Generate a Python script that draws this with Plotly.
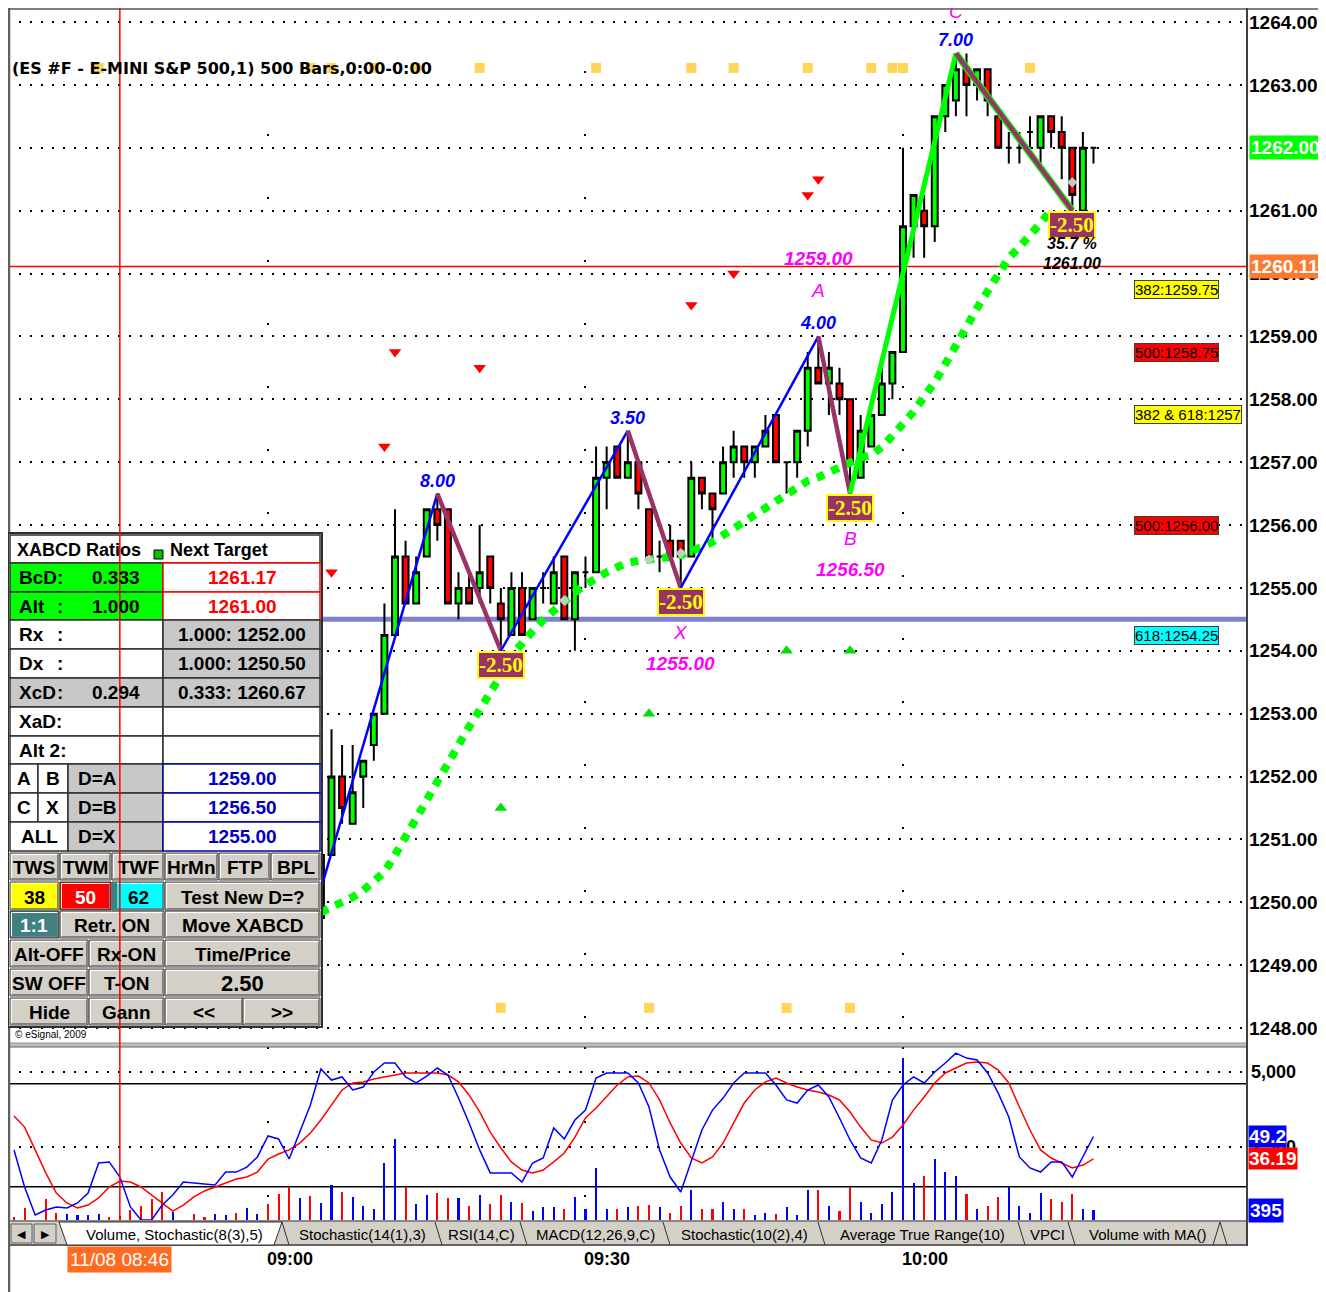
import plotly.graph_objects as go

W, H = 1326, 1292
OX, OY = 8, 8                     # page body margin offset
FW, FH = W - OX, H - OY           # figure size
SANS = "Arial, Liberation Sans, sans-serif"
SERIF = "Times New Roman, Liberation Serif, serif"

# ------------------------------------------------------------------ data
# ES #F 1-minute bars on 11/08, x = minutes after 09:00
bar_minute = [5, 6, 7, 8, 9, 10, 11, 12, 13, 14, 15, 16, 17, 18, 19, 20, 21, 22, 23, 24,
              25, 26, 27, 28, 29, 30, 31, 32, 33, 34, 35, 36, 37, 38, 39, 40, 41, 42, 43, 44,
              45, 46, 47, 48, 49, 50, 51, 52, 53, 54, 55, 56, 57, 58, 59, 60, 61, 62, 63, 64,
              65, 66, 67, 68, 69, 70, 71, 72, 73, 74, 75, 76, 77, 78]
bar_open = [1249.75, 1250.75, 1252.0, 1251.25, 1252.0, 1252.5, 1253.0, 1254.25, 1255.5, 1254.75,
            1255.5, 1256.25, 1256.25, 1254.75, 1255.0, 1255.0, 1255.5, 1254.75, 1254.25, 1255.0,
            1254.5, 1255.0, 1254.75, 1255.5, 1254.5, 1255.25, 1255.25, 1256.75, 1257.25, 1256.75,
            1257.0, 1256.25, 1255.5, 1255.75, 1255.75, 1255.5, 1256.75, 1256.5, 1256.5, 1257.0,
            1257.25, 1257.0, 1257.25, 1257.75, 1257.0, 1257.0, 1257.5, 1258.5, 1258.25, 1258.25,
            1258.0, 1256.75, 1257.25, 1257.75, 1258.25, 1258.75, 1260.75, 1261.0, 1260.75, 1262.5,
            1262.75, 1263.25, 1263.0, 1263.25, 1262.5, 1262.0, 1262.0, 1262.25, 1262.0, 1262.5,
            1262.25, 1262.0, 1261.0, 1262.0]
bar_high = [1250.75, 1252.75, 1252.5, 1252.5, 1252.25, 1253.0, 1254.75, 1256.25, 1255.75, 1255.5,
            1256.25, 1256.5, 1256.25, 1255.25, 1255.25, 1256.0, 1255.5, 1255.0, 1255.25, 1255.25,
            1255.0, 1255.25, 1255.5, 1255.5, 1255.25, 1255.5, 1257.25, 1257.25, 1257.25, 1257.5,
            1257.0, 1256.25, 1255.75, 1256.0, 1255.75, 1257.0, 1256.75, 1256.5, 1257.25, 1257.5,
            1257.25, 1257.25, 1257.75, 1257.75, 1257.0, 1257.5, 1258.75, 1259.0, 1258.75, 1258.5,
            1258.0, 1257.75, 1257.75, 1258.5, 1258.75, 1262.0, 1261.25, 1261.25, 1262.5, 1263.0,
            1263.5, 1263.5, 1263.25, 1263.25, 1262.5, 1262.25, 1262.25, 1262.5, 1262.5, 1262.5,
            1262.5, 1262.0, 1262.25, 1262.0]
bar_low = [1249.5, 1250.75, 1251.25, 1251.25, 1251.5, 1252.25, 1253.0, 1254.25, 1254.75, 1254.75,
           1255.5, 1255.75, 1254.75, 1254.5, 1254.75, 1254.75, 1254.75, 1254.0, 1254.25, 1254.25,
           1254.5, 1254.75, 1254.75, 1254.5, 1254.0, 1255.0, 1255.25, 1256.25, 1256.75, 1256.75,
           1256.25, 1255.5, 1255.25, 1255.5, 1255.0, 1255.5, 1256.25, 1255.75, 1256.5, 1256.75,
           1256.75, 1256.75, 1257.25, 1257.0, 1256.5, 1256.75, 1257.25, 1258.25, 1257.75, 1257.75,
           1256.5, 1256.75, 1257.25, 1257.75, 1258.0, 1258.75, 1260.25, 1260.25, 1260.5, 1262.25,
           1262.5, 1262.5, 1262.75, 1262.5, 1262.0, 1261.75, 1261.75, 1262.0, 1261.75, 1262.0,
           1261.5, 1261.0, 1261.0, 1261.75]
bar_close = [1250.75, 1252.0, 1251.5, 1251.75, 1252.25, 1253.0, 1254.25, 1255.5, 1254.75, 1255.25,
             1256.25, 1256.0, 1254.75, 1255.0, 1254.75, 1255.25, 1255.0, 1254.5, 1255.0, 1254.25,
             1255.0, 1255.0, 1255.25, 1254.5, 1255.25, 1255.25, 1256.75, 1257.0, 1256.75, 1257.0,
             1256.5, 1255.5, 1255.5, 1255.5, 1255.5, 1256.75, 1256.5, 1256.25, 1257.0, 1257.25,
             1257.0, 1257.25, 1257.5, 1257.0, 1257.0, 1257.5, 1258.5, 1258.25, 1258.5, 1258.0,
             1257.0, 1257.5, 1257.75, 1258.25, 1258.75, 1260.75, 1261.25, 1260.75, 1262.5, 1263.0,
             1263.25, 1263.0, 1263.25, 1262.75, 1262.0, 1262.0, 1262.0, 1262.25, 1262.5, 1262.25,
             1262.0, 1261.25, 1262.0, 1262.0]

# green dotted trend curve
trend_minute = [5, 6, 7, 8, 9, 10, 11, 12, 13, 14, 15, 16, 17, 18, 19, 20, 21, 22, 23, 24,
                25, 26, 27, 28, 29, 30, 31, 32, 33, 34, 35, 36, 37, 38, 39, 40, 41, 42, 43, 44,
                45, 46, 47, 48, 49, 50, 51, 52, 53, 54, 55, 56, 57, 58, 59, 60, 61, 62, 63, 64,
                65, 66, 67, 68, 69, 70, 71, 72, 73, 74]
trend_value = [1249.84, 1249.91, 1249.99, 1250.08, 1250.19, 1250.32, 1250.48, 1250.75, 1251.05, 1251.31,
               1251.63, 1251.94, 1252.23, 1252.52, 1252.79, 1253.06, 1253.31, 1253.61, 1253.92, 1254.14,
               1254.31, 1254.49, 1254.65, 1254.81, 1254.93, 1255.05, 1255.16, 1255.25, 1255.33, 1255.40,
               1255.43, 1255.44, 1255.46, 1255.49, 1255.52, 1255.57, 1255.65, 1255.73, 1255.84, 1255.95,
               1256.05, 1256.16, 1256.27, 1256.37, 1256.48, 1256.59, 1256.70, 1256.76, 1256.84, 1256.91,
               1257.00, 1257.07, 1257.11, 1257.24, 1257.42, 1257.59, 1257.80, 1258.04, 1258.27, 1258.56,
               1258.88, 1259.15, 1259.45, 1259.72, 1259.98, 1260.25, 1260.42, 1260.60, 1260.80, 1261.01]

# XABCD swing points and legs
swing_minute = [2, 16, 22, 34, 39, 52, 55, 65, 76]
swing_price = [1248.5, 1256.5, 1254.0, 1257.5, 1255.0, 1259.0, 1256.5, 1263.5, 1261.0]
leg_color = ["#0000FF", "#993366", "#0000FF", "#993366", "#0000FF", "#993366", "#00FF00", "#993366"]
leg_label = ["8.00", "-2.50", "3.50", "-2.50", "4.00", "-2.50", "7.00", "-2.50"]
point_name = {39: ("X", "1255.00"), 52: ("A", "1259.00"), 55: ("B", "1256.50"), 65: ("C", "")}

# signal markers
sell_minute = [6, 11, 12, 20, 40, 44, 51, 52]
sell_price = [1255.25, 1257.25, 1258.75, 1258.5, 1259.5, 1260.0, 1261.25, 1261.5]
buy_minute = [22, 36, 49, 55]
buy_price = [1251.5, 1253.0, 1254.0, 1254.0]
top_sq_minute = [-16, 4, 6, 10, 14, 20, 31, 40, 44, 51, 57, 59, 60, 72]
top_sq_price = [1263.27, 1263.27, 1263.27, 1263.27, 1263.27, 1263.27, 1263.27,
                1263.27, 1263.27, 1263.27, 1263.27, 1263.27, 1263.27, 1263.27]
bot_sq_minute = [22, 36, 49, 55]
bot_sq_price = [1248.32, 1248.32, 1248.32, 1248.32]
grey_minute = [28, 36, 39, 76]
grey_price = [1254.8, 1255.45, 1255.55, 1261.45]

# levels
cursor_price = 1260.11
last_price = 1262.00
fib_line_price = 1254.5
fib_levels = [1259.75, 1258.75, 1257.75, 1256.00, 1254.25]
fib_labels = ["382:1259.75", "500:1258.75", "382 & 618:1257", "500:1256.00", "618:1254.25"]
fib_colors = ["#FFFF00", "#FF0000", "#FFFF00", "#FF0000", "#00FFFF"]
last_swing_text = ["35.7 %", "1261.00"]

price_ticks = [1248, 1249, 1250, 1251, 1252, 1253, 1254, 1255, 1256, 1257, 1258, 1259,
               1260, 1261, 1262, 1263, 1264]
price_tick_text = ["1248.00", "1249.00", "1250.00", "1251.00", "1252.00", "1253.00", "1254.00",
                   "1255.00", "1256.00", "1257.00", "1258.00", "1259.00", "1260.00", "1261.00",
                   "1262.00", "1263.00", "1264.00"]
time_ticks = [0, 30, 60]
time_labels = ["09:00", "09:30", "10:00"]
cursor_minute = -14
cursor_label = "11/08 08:46"

# lower pane: Volume + Stochastic(8(3),5)
ind_minute = [-24, -23, -22, -21, -20, -19, -18, -17, -16, -15, -14, -13, -12, -11, -10, -9, -8, -7,
              -6, -5, -4, -3, -2, -1, 0, 1, 2, 3, 4, 5, 6, 7, 8, 9, 10, 11, 12, 13, 14, 15, 16, 17,
              18, 19, 20, 21, 22, 23, 24, 25, 26, 27, 28, 29, 30, 31, 32, 33, 34, 35, 36, 37, 38,
              39, 40, 41, 42, 43, 44, 45, 46, 47, 48, 49, 50, 51, 52, 53, 54, 55, 56, 57, 58, 59,
              60, 61, 62, 63, 64, 65, 66, 67, 68, 69, 70, 71, 72, 73, 74, 75, 76, 77, 78]
stoch_k = [41.4, 19.8, 3.5, 6.4, 8.2, 7.6, 10.5, 16.3, 33.8, 34.4,
           25.6, 8.2, 0.6, 0.6, 9.3, 15.1, 22.7, 22.1, 21.5, 21.0,
           28.5, 28.5, 31.4, 37.3, 49.5, 47.8, 36.1, 51.8, 67.6, 88.5,
           82.1, 83.9, 76.3, 78.0, 86.8, 92.0, 92.0, 83.9, 80.4, 84.4,
           89.1, 85.0, 71.6, 57.1, 41.4, 28.0, 28.0, 28.0, 22.7, 33.8,
           36.7, 54.2, 47.8, 58.8, 64.6, 83.3, 86.2, 86.2, 86.2, 80.4,
           66.4, 41.4, 25.6, 16.9, 35.5, 53.0, 64.6, 71.6, 80.4, 86.2,
           86.2, 86.2, 79.2, 70.5, 68.7, 76.3, 79.2, 72.2, 60.0, 47.2,
           36.7, 33.8, 47.2, 70.5, 79.2, 83.9, 80.4, 86.8, 92.0, 97.8,
           94.9, 93.8, 86.2, 74.5, 60.6, 37.3, 30.9, 28.5, 34.4, 34.4,
           25.6, 37.3, 49.2]
stoch_d = [61.2, 54.7, 41.4, 28.0, 16.3, 10.5, 7.6, 9.3, 13.4, 19.8,
           23.3, 22.7, 19.8, 15.1, 10.5, 5.8, 9.3, 14.0, 17.5, 19.8,
           22.1, 24.5, 25.6, 28.5, 36.1, 39.0, 41.4, 45.4, 51.3, 58.8,
           67.6, 76.3, 80.4, 81.0, 82.7, 83.9, 85.0, 86.2, 86.2, 86.2,
           86.2, 85.0, 81.0, 73.4, 63.5, 51.8, 42.5, 34.4, 29.7, 28.0,
           29.7, 34.4, 39.6, 48.9, 60.0, 65.8, 72.2, 79.2, 83.9, 84.4,
           80.4, 70.5, 57.1, 45.4, 36.7, 33.8, 37.3, 45.4, 57.1, 68.7,
           76.3, 81.0, 83.3, 80.4, 78.0, 76.3, 75.1, 73.4, 70.5, 63.5,
           54.7, 47.2, 45.4, 48.9, 55.9, 64.6, 72.2, 80.4, 86.2, 89.1,
           92.0, 92.6, 92.0, 87.9, 80.4, 66.4, 53.0, 41.4, 36.7, 33.8,
           30.9, 32.6, 36.19]
volume = [167, 467, 0, 767, 300, 267, 233, 233, 267, 167,
          200, 400, 533, 767, 1000, 333, 0, 267, 167, 267,
          233, 300, 467, 267, 600, 933, 1167, 800, 867, 633,
          1233, 1000, 833, 533, 433, 1967, 2767, 1167, 600, 900,
          967, 800, 800, 533, 900, 600, 900, 667, 633, 367,
          500, 500, 433, 833, 433, 1800, 433, 433, 500, 533,
          567, 489, 289, 544, 1067, 422, 422, 678, 422, 422,
          233, 311, 267, 489, 233, 1067, 1067, 533, 378, 1156,
          678, 289, 589, 1011, 5456, 1289, 1533, 2089, 1678, 1533,
          933, 422, 533, 822, 1156, 533, 311, 978, 778, 678,
          933, 422, 395]
volume_dir = ["R", "R", "R", "R", "R", "B", "B", "B", "B", "R",
              "R", "R", "R", "R", "R", "B", "B", "R", "R", "B",
              "B", "R", "B", "B", "R", "R", "R", "B", "R", "B",
              "B", "R", "B", "B", "B", "B", "B", "R", "B", "B",
              "R", "R", "B", "R", "B", "R", "R", "B", "R", "B",
              "B", "B", "R", "B", "B", "B", "B", "R", "B", "R",
              "R", "B", "R", "R", "B", "R", "R", "B", "B", "R",
              "B", "B", "R", "B", "B", "B", "R", "B", "R", "R",
              "B", "B", "B", "B", "B", "B", "R", "B", "B", "B",
              "R", "B", "R", "R", "B", "B", "B", "B", "R", "R",
              "R", "B", "B"]
stoch_levels = [20, 80]
volume_grid = [2500, 5000]
volume_grid_text = ["2,500", "5,000"]

# XABCD control panel contents
ratio_names = ["BcD", "Alt", "Rx", "Dx", "XcD", "XaD:", "Alt 2:"]
ratio_values = ["0.333", "1.000", "", "", "0.294", "", ""]
target_values = ["1261.17", "1261.00", "1.000: 1252.00", "1.000: 1250.50", "0.333: 1260.67", "", ""]
projection_names = ["D=A", "D=B", "D=X"]
projection_values = ["1259.00", "1256.50", "1255.00"]
button_rows = [
    ["TWS", "TWM", "TWF", "HrMn", "FTP", "BPL"],
    ["38", "50", "62", "Test New D=?"],
    ["1:1", "Retr. ON", "Move XABCD"],
    ["Alt-OFF", "Rx-ON", "Time/Price"],
    ["SW OFF", "T-ON", "2.50"],
    ["Hide", "Gann", "<<", ">>"],
]
tab_names = ["Volume, Stochastic(8(3),5)", "Stochastic(14(1),3)", "RSI(14,C)", "MACD(12,26,9,C)",
             "Stochastic(10(2),4)", "Average True Range(10)", "VPCI", "Volume with MA()"]
chart_title = "(ES #F - E-MINI S&P 500,1) 500 Bars,0:00-0:00"

# ------------------------------------------------------------------ geometry (page pixels)
PXM = 10.583           # pixels per minute
X0PX = 268             # page pixel of 09:00
def t_at(px):
    return (px - X0PX) / PXM
def p_at(py):
    return 1264 - (py - 22) / 62.875
def X(px):
    return (px - OX) / FW
def Y(py):
    return 1 - (py - OY) / FH

XDOM = [X(8), X(1246)]
XRANGE = [t_at(8), t_at(1246)]
MAIN_DOM = [Y(1043), 1.0]
MAIN_RANGE = [p_at(1043), p_at(OY)]
LOW_DOM = [Y(1220), Y(1047)]
STOCH_RANGE = [(1221 - 1220) / 1.717, (1221 - 1047) / 1.717]
VOL_RANGE = [(1222 - 1220) / 0.03, (1222 - 1047) / 0.03]

shapes, anns = [], []

def rect(x0, y0, x1, y1, fill="rgba(0,0,0,0)", line=None, lw=1, layer="above"):
    shapes.append(dict(type="rect", xref="paper", yref="paper", x0=X(x0), x1=X(x1),
                       y0=Y(y1), y1=Y(y0), fillcolor=fill, layer=layer,
                       line=dict(color=line if line else "rgba(0,0,0,0)", width=lw if line else 0)))

def seg(x0, y0, x1, y1, color, lw=1, layer="above"):
    shapes.append(dict(type="line", xref="paper", yref="paper", x0=X(x0), x1=X(x1),
                       y0=Y(y0), y1=Y(y1), line=dict(color=color, width=lw), layer=layer))

def txt(x, y, s, size=18, color="black", anchor="center", weight="bold", style="normal",
        family=SANS, **kw):
    anns.append(dict(xref="paper", yref="paper", x=X(x), y=Y(y), text=s, showarrow=False,
                     xanchor=anchor, yanchor="middle",
                     font=dict(family=family, size=size, color=color, weight=weight, style=style), **kw))

fig = go.Figure()

# ------------------------------------------------------------------ main pane traces
fig.add_trace(go.Candlestick(
    x=bar_minute, open=bar_open, high=bar_high, low=bar_low, close=bar_close,
    increasing=dict(fillcolor="#00FF00", line=dict(color="black", width=2)),
    decreasing=dict(fillcolor="#FF0000", line=dict(color="black", width=2)),
    whiskerwidth=0, showlegend=False, hoverinfo="skip", xaxis="x", yaxis="y"))

fig.add_trace(go.Scatter(x=trend_minute, y=trend_value, mode="lines",
                         line=dict(color="#00FF00", width=8, dash="8px,8px"),
                         showlegend=False, hoverinfo="skip"))

for i in range(len(swing_minute) - 1):
    xs = [swing_minute[i], swing_minute[i + 1]]
    ys = [swing_price[i], swing_price[i + 1]]
    c = leg_color[i]
    if i == len(swing_minute) - 2:
        fig.add_trace(go.Scatter(x=xs, y=ys, mode="lines", line=dict(color="#00FF00", width=7),
                                 showlegend=False, hoverinfo="skip"))
    w = 2.5 if c == "#0000FF" else (5 if c == "#00FF00" else 4.5)
    fig.add_trace(go.Scatter(x=xs, y=ys, mode="lines", line=dict(color=c, width=w),
                             showlegend=False, hoverinfo="skip"))

fig.add_trace(go.Scatter(x=grey_minute, y=grey_price, mode="markers",
                         marker=dict(symbol="diamond", size=8, color="#C8C8C8"),
                         showlegend=False, hoverinfo="skip"))
fig.add_trace(go.Scatter(x=sell_minute, y=sell_price, mode="markers",
                         marker=dict(symbol="triangle-down", size=11, color="#FF0000"),
                         showlegend=False, hoverinfo="skip"))
fig.add_trace(go.Scatter(x=buy_minute, y=buy_price, mode="markers",
                         marker=dict(symbol="triangle-up", size=11, color="#00E000"),
                         showlegend=False, hoverinfo="skip"))

# ------------------------------------------------------------------ lower pane traces
fig.add_trace(go.Bar(x=ind_minute, y=volume, width=0.2,
                     marker=dict(color=["#0000FF" if d == "B" else "#FF0000" for d in volume_dir],
                                 line=dict(width=0)),
                     xaxis="x2", yaxis="y2", showlegend=False, hoverinfo="skip"))
fig.add_trace(go.Scatter(x=ind_minute, y=stoch_d, mode="lines", line=dict(color="#FF0000", width=1.5),
                         xaxis="x2", yaxis="y3", showlegend=False, hoverinfo="skip"))
fig.add_trace(go.Scatter(x=ind_minute, y=stoch_k, mode="lines", line=dict(color="#0000FF", width=1.5),
                         xaxis="x2", yaxis="y3", showlegend=False, hoverinfo="skip"))

# ------------------------------------------------------------------ level lines
shapes.append(dict(type="line", xref="paper", yref="y", x0=X(8), x1=X(1246), y0=fib_line_price,
                   y1=fib_line_price, line=dict(color="#8080D0", width=5), layer="below"))
shapes.append(dict(type="line", xref="paper", yref="y", x0=X(8), x1=X(1246), y0=cursor_price,
                   y1=cursor_price, line=dict(color="#FF0000", width=1.5), layer="below"))
for lv in stoch_levels:
    shapes.append(dict(type="line", xref="paper", yref="y3", x0=X(8), x1=X(1246), y0=lv, y1=lv,
                       line=dict(color="black", width=1.5), layer="below"))

# ------------------------------------------------------------------ title
txt(10, 68, chart_title, size=16, anchor="left", family="DejaVu Sans, Verdana, sans-serif")

# ------------------------------------------------------------------ labels on chart
for i, lab in enumerate(leg_label):
    tm, pr = swing_minute[i + 1], swing_price[i + 1]
    if lab.startswith("-"):
        anns.append(dict(x=tm, y=pr, xref="x", yref="y", text=lab, showarrow=False,
                         xanchor="center", yanchor="top", yshift=0, bgcolor="#993366",
                         bordercolor="#FFFF00", borderwidth=2, borderpad=0,
                         font=dict(family=SERIF, size=21, color="#FFFF00", weight="bold")))
    else:
        anns.append(dict(x=tm, y=pr, xref="x", yref="y", text=lab, showarrow=False,
                         xanchor="center", yanchor="middle", yshift=13,
                         font=dict(family=SANS, size=18, color="#0000FF", weight="bold", style="italic")))
for tm, (nm, val) in point_name.items():
    pr = swing_price[swing_minute.index(tm)]
    up = pr >= 1259
    s1, s2 = (46, 78) if up else (-45, -76)
    if tm == 65:
        s1 = 42
    anns.append(dict(x=tm, y=pr, xref="x", yref="y", text=nm, showarrow=False, yshift=s1,
                     yanchor="middle",
                     font=dict(family=SANS, size=19, color="#FF00FF", style="italic")))
    if val:
        anns.append(dict(x=tm, y=pr, xref="x", yref="y", text=val, showarrow=False, yshift=s2,
                         yanchor="middle",
                         font=dict(family=SANS, size=19, color="#FF00FF", weight="bold", style="italic")))
for k, s in enumerate(last_swing_text):
    anns.append(dict(x=swing_minute[-1], y=swing_price[-1], xref="x", yref="y", text=s,
                     showarrow=False, yshift=-33 - 20 * k, yanchor="middle",
                     font=dict(family=SANS, size=16, color="black", weight="bold", style="italic")))

for lv, lab, col in zip(fib_levels, fib_labels, fib_colors):
    anns.append(dict(x=X(1134), y=lv, xref="paper", yref="y", text=lab, showarrow=False,
                     xanchor="left", yanchor="middle", bgcolor=col, bordercolor="#404040",
                     borderwidth=1, borderpad=0, font=dict(family=SANS, size=15, color="black")))

anns.append(dict(x=X(1249), y=last_price, xref="paper", yref="y", text=f"{last_price:.2f}",
                 showarrow=False, xanchor="left", yanchor="middle", bgcolor="#00FF00", borderpad=1,
                 font=dict(family=SANS, size=19, color="white", weight="bold")))
anns.append(dict(x=X(1249), y=cursor_price, xref="paper", yref="y", text=f"{cursor_price:.2f}",
                 showarrow=False, xanchor="left", yanchor="middle", bgcolor="#FF7A30", borderpad=1,
                 font=dict(family=SANS, size=19, color="white", weight="bold")))

# lower pane right labels
for v, s in zip(volume_grid, volume_grid_text):
    anns.append(dict(x=X(1249), y=v, xref="paper", yref="y2", text=s, showarrow=False,
                     xanchor="left", yanchor="middle",
                     font=dict(family=SANS, size=18, color="black", weight="bold")))
anns.append(dict(x=X(1248), y=stoch_k[-1], xref="paper", yref="y3", text=f"{stoch_k[-1]}",
                 showarrow=False, xanchor="left", yanchor="middle", bgcolor="#0000FF", borderpad=0,
                 font=dict(family=SANS, size=19, color="white", weight="bold")))
anns.append(dict(x=X(1248), y=stoch_d[-1], xref="paper", yref="y3", text=f"{stoch_d[-1]:.2f}",
                 showarrow=False, xanchor="left", yanchor="middle", bgcolor="#FF0000", borderpad=0,
                 font=dict(family=SANS, size=19, color="white", weight="bold")))
anns.append(dict(x=X(1248), y=volume[-1], xref="paper", yref="y2", text=f"{volume[-1]}",
                 showarrow=False, xanchor="left", yanchor="middle", bgcolor="#0000FF", borderpad=1,
                 font=dict(family=SANS, size=19, color="white", weight="bold")))

# ------------------------------------------------------------------ frame
rect(8, 1043, 1246, 1047, fill="#C0C0C0", line=None)
seg(8, 1047, 1246, 1047, "#606060", 1)
seg(8, 1043, 1246, 1043, "#909090", 1)
seg(8, 9, 1323, 9, "#808080", 2)
seg(9, 8, 9, H, "#606060", 2.5)
seg(1247, 8, 1247, 1246, "#404040", 2)
seg(1322, 8, 1322, 1246, "#C8C8C8", 2)

# tab bar
rect(10, 1220, 1246, 1246, fill="#D4D0C8")
seg(10, 1221, 1246, 1221, "#404040", 1)
seg(10, 1245, 1246, 1245, "#404040", 1.5)
for bx0, bx1, sym in [(11, 32, "◀"), (34, 56, "▶")]:
    rect(bx0, 1224, bx1, 1243, fill="#D4D0C8", line="#606060", lw=1)
    txt((bx0 + bx1) / 2, 1233.5, sym, size=11, weight="normal")
tab_bounds = [(59, 282), (282, 435), (435, 520), (520, 663), (663, 818), (818, 1018),
              (1018, 1068), (1068, 1220)]
shapes.append(dict(type="path", xref="paper", yref="paper",
                   path=f"M {X(59)},{Y(1222)} L {X(282)},{Y(1222)} L {X(274)},{Y(1245)} "
                        f"L {X(67)},{Y(1245)} Z",
                   fillcolor="white", line=dict(color="#303030", width=1), layer="above"))
for (a, b), name in zip(tab_bounds, tab_names):
    seg(b, 1222, b + 7, 1245, "#303030", 1)
    txt((a + b) / 2 + 4, 1234, name, size=15, weight="normal")
seg(1213, 1245, 1220, 1222, "#303030", 1)

# time labels
for tv, tl in zip(time_ticks, time_labels):
    anns.append(dict(x=tv, y=Y(1259), xref="x", yref="paper", text=tl, showarrow=False,
                     xanchor="left", yanchor="middle", xshift=-3,
                     font=dict(family=SANS, size=18, color="black", weight="bold")))
anns.append(dict(x=cursor_minute, y=Y(1259), xref="x", yref="paper", text=cursor_label,
                 showarrow=False, xanchor="center", yanchor="middle", bgcolor="#FF6B1F", borderpad=2,
                 font=dict(family=SANS, size=19, color="white")))

# ------------------------------------------------------------------ XABCD panel
GREY, BTN, EDGE = "#C8C8C8", "#D4D0C8", "#303030"
rect(8, 533, 322, 1027, fill="white", line=EDGE, lw=2)
rect(10, 535, 320, 563, fill="white", line=EDGE, lw=1.5)
txt(15, 550, "XABCD Ratios", size=18, anchor="left")
rect(154, 550, 163, 559, fill="#00C000", line="black", lw=1)
txt(168, 550, "Next Target", size=18, anchor="left")
row_y = [563, 592, 620, 649, 678, 707, 736, 764, 793, 822, 851]
left_fill = ["#00FF00", "#00FF00", "white", "white", GREY, "white", "white"]
right_fill = ["white", "white", GREY, GREY, GREY, "white", "white"]
right_col = ["#FF0000", "#FF0000", "black", "black", "black", "black", "black"]
right_edge = ["#FF0000", "#FF0000", EDGE, EDGE, EDGE, EDGE, EDGE]
for i in range(7):
    y0, y1 = row_y[i], row_y[i + 1]
    ym = (y0 + y1) / 2
    rect(10, y0, 163, y1, fill=left_fill[i], line=EDGE, lw=1.5)
    rect(163, y0, 320, y1, fill=right_fill[i], line=right_edge[i], lw=1.5)
    txt(17, ym, ratio_names[i], size=19, anchor="left")
    if not ratio_names[i].endswith(":"):
        txt(60, ym, ":", size=19)
    if ratio_values[i]:
        txt(90, ym, ratio_values[i], size=19, anchor="left")
    if target_values[i]:
        txt(242, ym, target_values[i], size=19, color=right_col[i])
corner = [("A", "B"), ("C", "X"), ("ALL", None)]
for j in range(3):
    y0, y1 = row_y[7 + j], row_y[8 + j]
    ym = (y0 + y1) / 2
    a, b = corner[j]
    if b is None:
        rect(10, y0, 68, y1, fill="white", line=EDGE, lw=1.5)
        txt(39, ym, a, size=19)
    else:
        rect(10, y0, 38, y1, fill="white", line=EDGE, lw=1.5)
        rect(38, y0, 68, y1, fill="white", line=EDGE, lw=1.5)
        txt(24, ym, a, size=19)
        txt(53, ym, b, size=19)
    rect(68, y0, 163, y1, fill=GREY, line=EDGE, lw=1.5)
    txt(76, ym, projection_names[j], size=19, anchor="left")
    rect(163, y0, 320, y1, fill="white", line="#0000A0", lw=1.5)
    txt(242, ym, projection_values[j], size=19, color="#0000C0")

def button(x0, y0, x1, y1, label, fill=BTN, color="black", size=19):
    rect(x0, y0, x1, y1, fill=fill, line="#404040", lw=1)
    seg(x0 + 1.5, y0 + 1.5, x1 - 1.5, y0 + 1.5, "white", 1)
    seg(x0 + 1.5, y0 + 1.5, x0 + 1.5, y1 - 1.5, "white", 1)
    seg(x0 + 1.5, y1 - 1.5, x1 - 1.5, y1 - 1.5, "#808080", 1)
    seg(x1 - 1.5, y0 + 1.5, x1 - 1.5, y1 - 1.5, "#808080", 1)
    txt((x0 + x1) / 2, (y0 + y1) / 2 + 1, label, size=size, color=color)

btn_y = [(853, 880), (882, 910), (911, 938), (940, 967), (969, 996), (998, 1025)]
btn_x = [
    [(10, 59), (60, 111), (112, 164), (165, 218), (219, 270), (271, 320)],
    [(10, 59), (60, 111), (112, 164), (165, 320)],
    [(10, 59), (60, 164), (165, 320)],
    [(10, 88), (89, 164), (165, 320)],
    [(10, 88), (89, 164), (165, 320)],
    [(10, 88), (89, 164), (165, 243), (243, 320)],
]
special = {(1, 0): ("#FFFF00", "black"), (1, 1): ("#FF0000", "white"), (1, 2): ("#00FFFF", "black"),
           (2, 0): ("#408080", "white")}
for r, labels in enumerate(button_rows):
    y0, y1 = btn_y[r]
    for c, lab in enumerate(labels):
        x0, x1 = btn_x[r][c]
        fill, col = special.get((r, c), (BTN, "black"))
        size = 22 if lab == "2.50" else 19
        button(x0, y0, x1, y1, lab, fill=fill, color=col, size=size)
rect(112, 883, 117, 909, fill="#408080")
txt(13, 1034, "© eSignal, 2009", size=10, weight="normal", anchor="left")

# cursor line (on top of panel)
shapes.append(dict(type="line", xref="x", yref="paper", x0=cursor_minute, x1=cursor_minute,
                   y0=Y(1220), y1=1.0, line=dict(color="#FF0000", width=1.5), layer="above"))

# signal squares
fig.add_trace(go.Scatter(x=top_sq_minute + bot_sq_minute, y=top_sq_price + bot_sq_price,
                         mode="markers", marker=dict(symbol="square", size=10, color="#FFD55A"),
                         showlegend=False, hoverinfo="skip"))

# ------------------------------------------------------------------ layout
fig.update_layout(
    template="none", width=FW, height=FH, margin=dict(l=0, r=0, t=0, b=0),
    paper_bgcolor="white", plot_bgcolor="white", showlegend=False,
    font=dict(family=SANS, color="black"), boxgap=0.2, bargap=0,
    xaxis=dict(domain=XDOM, range=XRANGE, showticklabels=False, tickvals=time_ticks, ticks="",
               showgrid=True, gridcolor="black", gridwidth=1.5, griddash="2px,61px",
               zeroline=False, showline=False, rangeslider=dict(visible=False), anchor="y"),
    yaxis=dict(domain=MAIN_DOM, range=MAIN_RANGE, side="right", tickvals=price_ticks,
               ticktext=price_tick_text, ticks="", ticklabelstandoff=2,
               tickfont=dict(family=SANS, size=19, color="black", weight="bold"),
               showgrid=True, gridcolor="black", gridwidth=1.5, griddash="2px,9px",
               zeroline=False, showline=False, anchor="x"),
    xaxis2=dict(domain=XDOM, range=XRANGE, showticklabels=False, tickvals=time_ticks, ticks="",
                showgrid=True, gridcolor="black", gridwidth=1.5, griddash="2px,72px",
                zeroline=False, showline=False, anchor="y2"),
    yaxis2=dict(domain=LOW_DOM, range=VOL_RANGE, showticklabels=False, tickvals=volume_grid,
                ticks="", showgrid=True, gridcolor="black", gridwidth=1.5, griddash="2px,9px",
                zeroline=False, showline=False, anchor="x2"),
    yaxis3=dict(range=STOCH_RANGE, overlaying="y2", showticklabels=False, showgrid=False,
                zeroline=False, showline=False, anchor="x2", side="left"),
    shapes=shapes, annotations=anns,
)

fig.write_html("out.html")
